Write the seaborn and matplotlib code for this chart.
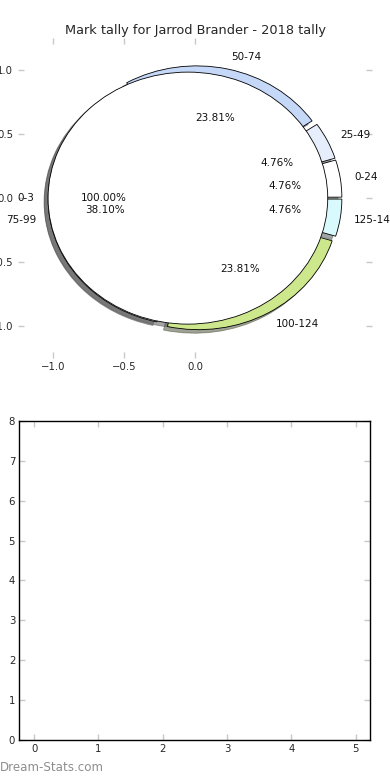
import matplotlib
matplotlib.use('Agg')
import matplotlib.pyplot as plt
import seaborn as sns

# mark bands and how many marks fell in each (21 in total)
bands = ['0-24', '25-49', '50-74', '75-99', '100-124', '125-149']
counts = [1, 1, 5, 8, 5, 1]
band_colors = ['#ffffff', '#e6eefb', '#c5d8f8', '#ffffff', '#cde88c', '#d9fafc']

# the overlaid single-slice pie
extra_labels = ['0-3']
extra_counts = [1]
extra_colors = ['#ffffff']

pie_xticks = [-1.0, -0.5, 0.0]
pie_yticks = [-1.0, -0.5, 0.0, 0.5, 1.0]
bottom_xticks = [0, 1, 2, 3, 4, 5]
bottom_yticks = [0, 1, 2, 3, 4, 5, 6, 7, 8]

sns.set_style('white')
plt.rcParams['font.family'] = ['DejaVu Sans']

fig = plt.figure(figsize=(3.9, 7.8), dpi=100)
ax1 = fig.add_axes([0.045, 0.541, 0.910, 0.410])
ax2 = fig.add_axes([0.0495, 0.0513, 0.899, 0.409])

wedge_style = {'edgecolor': 'black', 'linewidth': 0.6}
text_style = {'fontsize': 7.5, 'color': '#111111'}

ax1.pie(counts, labels=bands, colors=band_colors, explode=[0.05] * len(counts),
        radius=0.985, autopct='%1.2f%%', shadow=True, startangle=0,
        wedgeprops=wedge_style, textprops=text_style)
ax1.pie(extra_counts, labels=extra_labels, colors=extra_colors, explode=[0.05],
        radius=0.985, autopct='%1.2f%%', shadow=True, startangle=0,
        wedgeprops=wedge_style, textprops=text_style)

ax1.set_aspect('auto')
ax1.set_xlim(-1.25, 1.25)
ax1.set_ylim(-1.25, 1.25)
ax1.set_xticks(pie_xticks)
ax1.set_yticks(pie_yticks)
ax1.set_xticklabels(['\u22121.0', '\u22120.5', '0.0'])
ax1.set_yticklabels(['\u22121.0', '\u22120.5', '0.0', '0.5', '1.0'])
ax1.set_title('Mark tally for Jarrod Brander - 2018 tally', fontsize=9.3, pad=3)

# empty lower panel
ax2.set_xlim(-0.23, 5.22)
ax2.set_ylim(0, 8)
ax2.set_xticks(bottom_xticks)
ax2.set_yticks(bottom_yticks)
for sp in ax2.spines.values():
    sp.set_visible(True)
    sp.set_color('black')
    sp.set_linewidth(1.0)

for ax in (ax1, ax2):
    ax.tick_params(direction='in', length=4, width=1, color='#c8c8c8',
                   labelsize=7.3, top=True, right=True, bottom=True, left=True,
                   pad=3)

fig.text(0.0, 0.011, 'Dream-Stats.com', fontsize=8.6, color='#8e8e8e',
         va='baseline')

fig.savefig('out.png', dpi=100)
